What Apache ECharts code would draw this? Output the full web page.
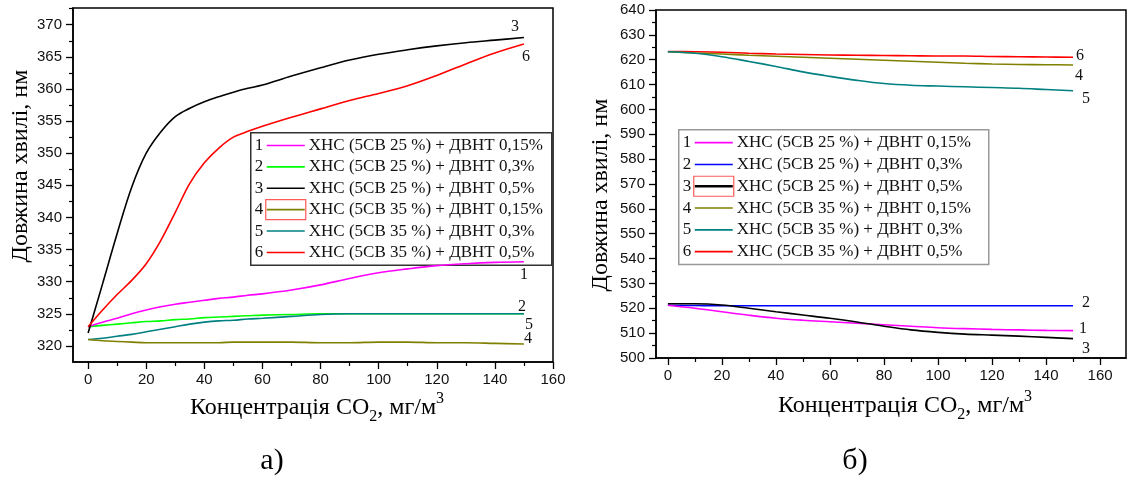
<!DOCTYPE html>
<html>
<head>
<meta charset="utf-8">
<script src="https://cdn.jsdelivr.net/npm/echarts@6/dist/echarts.min.js"></script>
<style>
  html, body { margin: 0; padding: 0; background: #fff; }
  #chart { width: 1128px; height: 480px; }
</style>
</head>
<body>
<div id="chart"></div>
<script>
// ---- panel а): CO2 concentration vs wavelength, short-wave band ----
const xA = [0, 5, 10, 15, 20, 25, 30, 35, 40, 45, 50, 55, 60, 70, 80, 90, 100, 110, 120, 130, 140, 150];
const a1 = [323, 323.7, 324.3, 325, 325.6, 326.1, 326.5, 326.8, 327.1, 327.4, 327.6, 327.9, 328.1, 328.7, 329.5, 330.5, 331.4, 332, 332.5, 332.8, 333, 333.1];
const a2 = [323, 323.2, 323.4, 323.6, 323.8, 323.9, 324.1, 324.2, 324.4, 324.5, 324.6, 324.7, 324.8, 324.9, 325, 325, 325, 325, 325, 325, 325, 325];
const a3 = [322, 329.7, 337.5, 344.7, 350, 353.3, 355.7, 357, 358, 358.8, 359.5, 360.1, 360.6, 362, 363.3, 364.5, 365.4, 366.1, 366.7, 367.2, 367.6, 368];
const a4 = [321, 320.8, 320.7, 320.6, 320.5, 320.5, 320.5, 320.5, 320.5, 320.5, 320.6, 320.6, 320.6, 320.6, 320.5, 320.5, 320.6, 320.6, 320.5, 320.5, 320.4, 320.3];
const a5 = [321, 321.2, 321.5, 321.8, 322.2, 322.6, 323, 323.4, 323.7, 323.9, 324, 324.2, 324.3, 324.6, 324.9, 325, 325, 325, 325, 325, 325, 325];
const a6 = [323, 325.6, 328, 330.2, 332.8, 336.4, 340.8, 345.3, 348.5, 350.8, 352.5, 353.4, 354.2, 355.6, 356.9, 358.2, 359.3, 360.5, 362.1, 363.9, 365.6, 367];

// ---- panel б): long-wave and mid-wave bands ----
const xB = [0, 10, 20, 30, 40, 50, 60, 70, 80, 90, 100, 110, 120, 130, 140, 150];
const b1 = [521.2, 520, 518.6, 517.2, 516, 515.2, 514.6, 514, 513.4, 512.8, 512.2, 511.8, 511.5, 511.3, 511.1, 511];
const b2 = [521.2, 521.1, 521, 521, 521, 521, 521, 521, 521, 521, 521, 521, 521, 521, 521, 521];
const b3 = [521.8, 521.8, 521.3, 520, 518.6, 517.3, 516, 514.5, 512.8, 511.3, 510.3, 509.6, 509.2, 508.8, 508.3, 507.8];
const b4 = [623.2, 622.7, 622.3, 621.8, 621.4, 621, 620.6, 620.2, 619.8, 619.4, 619, 618.6, 618.3, 618.1, 618, 617.9];
const b5 = [623.2, 622.6, 621.2, 619.3, 617.3, 615.1, 613.3, 611.7, 610.4, 609.7, 609.4, 609.1, 608.8, 608.5, 608, 607.5];
const b6 = [623.3, 623.2, 623, 622.6, 622.3, 622.1, 621.9, 621.8, 621.7, 621.6, 621.5, 621.5, 621.3, 621.2, 621.1, 621];

// legend entries and series colours
const seriesNums = ['1', '2', '3', '4', '5', '6'];
const seriesNames = [
  'ХНС (5СВ 25 %) + ДВНТ 0,15%',
  'ХНС (5СВ 25 %) + ДВНТ 0,3%',
  'ХНС (5СВ 25 %) + ДВНТ 0,5%',
  'ХНС (5СВ 35 %) + ДВНТ 0,15%',
  'ХНС (5СВ 35 %) + ДВНТ 0,3%',
  'ХНС (5СВ 35 %) + ДВНТ 0,5%'
];
const colorsA = ['#ff00ff', '#00ff00', '#000000', '#808000', '#008080', '#ff0000'];
const colorsB = ['#ff00ff', '#0000ff', '#000000', '#808000', '#008080', '#ff0000'];

// tick values
const xTicks = [0, 20, 40, 60, 80, 100, 120, 140, 160];
const xMinor = [10, 30, 50, 70, 90, 110, 130, 150];
const yTicksA = [320, 325, 330, 335, 340, 345, 350, 355, 360, 365, 370];
const yMinorA = [322.5, 327.5, 332.5, 337.5, 342.5, 347.5, 352.5, 357.5, 362.5, 367.5, 372.5];
const yTicksB = [500, 510, 520, 530, 540, 550, 560, 570, 580, 590, 600, 610, 620, 630, 640];
const yMinorB = [505, 515, 525, 535, 545, 555, 565, 575, 585, 595, 605, 615, 625, 635];

// text
const yTitle = 'Довжина хвилі, нм';
const panelLabels = ['а)', 'б)'];

const SERIF = '"Liberation Serif", "DejaVu Serif", serif';
const SANS = '"Liberation Sans", Arial, sans-serif';

const chart = echarts.init(document.getElementById('chart'), null, { renderer: 'canvas' });

const grids = [
  { left: 73, top: 8, width: 480, height: 354 },
  { left: 656, top: 10, width: 470, height: 348 }
];
const xRange = [[-5.2, 160], [-4.4, 169.6]];
const yRange = [[317.5, 372.6], [500, 640]];

function majorAxis(gi, range, ticks, isX) {
  return {
    type: 'value', gridIndex: gi, min: range[0], max: range[1],
    position: isX ? 'bottom' : 'left',
    axisLine: { show: true, onZero: false, lineStyle: { color: '#000', width: 1.5 } },
    axisTick: { show: true, inside: false, length: 7, customValues: ticks, lineStyle: { color: '#000', width: 1.3 } },
    axisLabel: { show: true, customValues: ticks, margin: isX ? 10 : 11, color: '#111', fontSize: 15, fontFamily: SANS },
    splitLine: { show: false }
  };
}
function minorAxis(gi, range, ticks, isX) {
  return {
    type: 'value', gridIndex: gi, min: range[0], max: range[1],
    position: isX ? 'bottom' : 'left',
    axisLine: { show: false, onZero: false },
    axisTick: { show: true, inside: false, length: 4, customValues: ticks, lineStyle: { color: '#000', width: 1.2 } },
    axisLabel: { show: false },
    splitLine: { show: false }
  };
}

const xAxes = [
  majorAxis(0, xRange[0], xTicks, true),
  majorAxis(1, xRange[1], xTicks, true),
  minorAxis(0, xRange[0], xMinor, true),
  minorAxis(1, xRange[1], xMinor, true)
];
const yAxes = [
  majorAxis(0, yRange[0], yTicksA, false),
  majorAxis(1, yRange[1], yTicksB, false),
  minorAxis(0, yRange[0], yMinorA, false),
  minorAxis(1, yRange[1], yMinorB, false)
];

const dataA = [a1, a2, a3, a4, a5, a6];
const dataB = [b1, b2, b3, b4, b5, b6];

function zip(xs, ys) { return xs.map((x, i) => [x, ys[i]]); }

const series = [];
// draw order: later series sit on top
const orderA = [1, 0, 2, 5, 4, 3];
orderA.forEach(i => {
  series.push({
    type: 'line', name: 'A' + seriesNums[i], xAxisIndex: 0, yAxisIndex: 0,
    data: zip(xA, dataA[i]), smooth: 0.35, showSymbol: false, silent: true,
    lineStyle: { color: colorsA[i], width: 1.6 }, animation: false
  });
});
const orderB = [1, 0, 2, 5, 3, 4];
orderB.forEach(i => {
  series.push({
    type: 'line', name: 'B' + seriesNums[i], xAxisIndex: 1, yAxisIndex: 1,
    data: zip(xB, dataB[i]), smooth: 0.35, showSymbol: false, silent: true,
    lineStyle: { color: colorsB[i], width: 1.6 }, animation: false
  });
});

// axis titles (x one carries sub/superscript)
function xTitle(cx, cy) {
  return {
    type: 'text', x: cx, y: cy,
    style: {
      text: '{m|Концентрація CO}{s|2}{m|, мг/м}{p|3}',
      align: 'center', verticalAlign: 'middle',
      rich: {
        m: { fontFamily: SERIF, fontSize: 24, lineHeight: 34, verticalAlign: 'middle', fill: '#000' },
        s: { fontFamily: SERIF, fontSize: 16, lineHeight: 14, verticalAlign: 'bottom', fill: '#000' },
        p: { fontFamily: SERIF, fontSize: 16, lineHeight: 8, verticalAlign: 'top', fill: '#000' }
      }
    }
  };
}
function yTitleEl(cx, cy) {
  return {
    type: 'text', x: cx, y: cy, rotation: Math.PI / 2,
    style: { text: yTitle, fontFamily: SERIF, fontSize: 24, fill: '#000', align: 'center', verticalAlign: 'middle' }
  };
}

// legend block drawn as graphic items
function legendBlock(left, top, w, rowH, colors, borderColor, markIdx, markLineWidth) {
  const children = [{
    type: 'rect', shape: { x: 0, y: 0, width: w, height: rowH * 6 + 4 },
    style: { fill: '#fff', stroke: borderColor, lineWidth: 1.5 }
  }];
  seriesNames.forEach((nm, i) => {
    const cy = 2 + rowH * i + rowH / 2;
    children.push({ type: 'text', x: 4, y: cy, style: { text: seriesNums[i], fontFamily: SERIF, fontSize: 17, fill: '#111', verticalAlign: 'middle' } });
    if (i === markIdx) {
      children.push({ type: 'rect', shape: { x: 15, y: cy - 10, width: 40, height: 20 }, style: { fill: 'none', stroke: '#ff5a5a', lineWidth: 1.2 } });
    }
    children.push({ type: 'line', shape: { x1: 16, y1: cy, x2: 54, y2: cy }, style: { stroke: colors[i], lineWidth: i === markIdx ? markLineWidth : 1.6 } });
    children.push({ type: 'text', x: 58, y: cy, style: { text: nm, fontFamily: SERIF, fontSize: 17, fill: '#111', verticalAlign: 'middle' } });
  });
  return { type: 'group', left: left, top: top, z: 100, children: children };
}

const baseGraphics = [
  xTitle(317, 408), xTitle(905, 406),
  yTitleEl(21, 166), yTitleEl(601, 195),
  { type: 'text', x: 272, y: 461, style: { text: panelLabels[0], fontFamily: SERIF, fontSize: 30, fill: '#000', align: 'center', verticalAlign: 'middle' } },
  { type: 'text', x: 855, y: 461, style: { text: panelLabels[1], fontFamily: SERIF, fontSize: 30, fill: '#000', align: 'center', verticalAlign: 'middle' } },
  legendBlock(250, 132, 301, 21.4, colorsA, '#333', 3, 1.6),
  legendBlock(678, 129, 310, 21.8, colorsB, '#999', 2, 2.6)
];

chart.setOption({
  animation: false,
  backgroundColor: '#fff',
  grid: grids.map(g => Object.assign({ show: true, borderColor: '#000', borderWidth: 1.5, backgroundColor: 'transparent' }, g)),
  xAxis: xAxes,
  yAxis: yAxes,
  series: series,
  graphic: baseGraphics
});

// curve number tags placed next to each curve's last point
const tagOffA = [[0, 13], [-2, -7], [-9, -11], [4, -5], [5, 11], [2, 13]];
const tagOffB = [[10, -2], [13, -3], [13, 10], [6, 11], [13, 8], [7, -1]];
const tags = [];
[[dataA, xA, tagOffA, 0], [dataB, xB, tagOffB, 1]].forEach(([data, xs, offs, gi]) => {
  data.forEach((ys, i) => {
    const p = chart.convertToPixel({ gridIndex: gi }, [xs[xs.length - 1], ys[ys.length - 1]]);
    tags.push({
      type: 'text', x: p[0] + offs[i][0], y: p[1] + offs[i][1],
      style: { text: seriesNums[i], fontFamily: SERIF, fontSize: 16, fill: '#111', align: 'center', verticalAlign: 'middle' }
    });
  });
});
chart.setOption({ graphic: baseGraphics.concat(tags) }, { replaceMerge: ['graphic'] });
</script>
</body>
</html>
